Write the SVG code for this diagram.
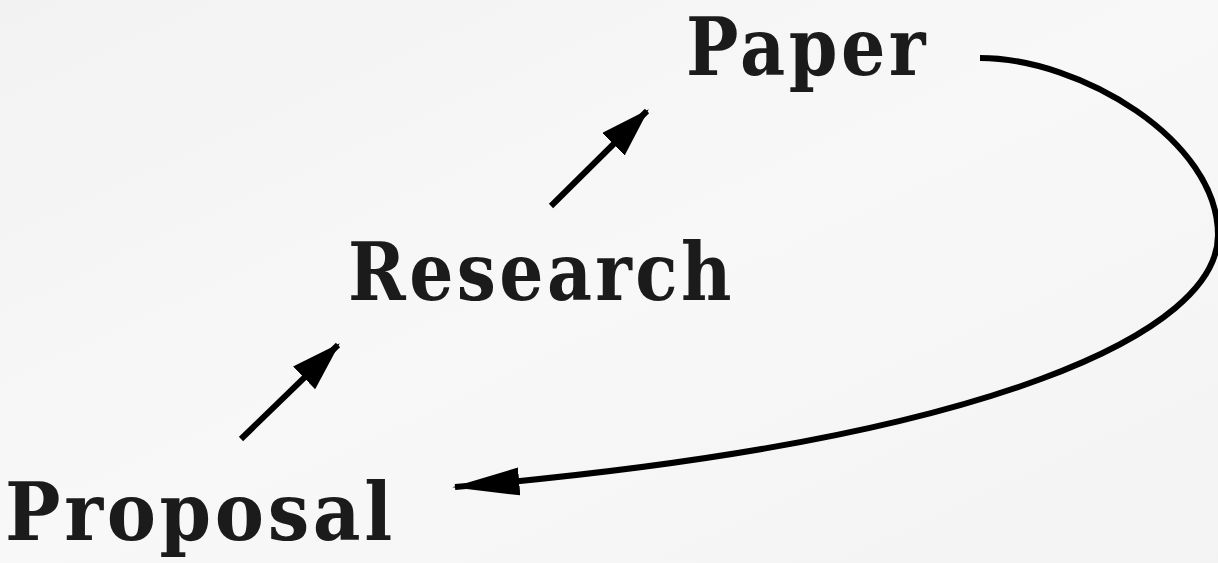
<svg xmlns="http://www.w3.org/2000/svg" width="1218" height="563" viewBox="0 0 1218 563">
  <defs>
    <linearGradient id="bg" x1="0" y1="0" x2="1" y2="1">
      <stop offset="0" stop-color="#f2f2f2"/>
      <stop offset="0.5" stop-color="#f8f8f8"/>
      <stop offset="1" stop-color="#f3f3f3"/>
    </linearGradient>
    <marker id="head" viewBox="0 0 10 6.4" refX="9.5" refY="3.2" markerWidth="8.3" markerHeight="5.3" orient="auto" markerUnits="strokeWidth">
      <path d="M0,0 L10,3.2 L0,6.4 Z" fill="#000"/>
    </marker>
    <marker id="headLong" viewBox="0 0 12 5" refX="11.5" refY="2.5" markerWidth="11.2" markerHeight="4.7" orient="auto" markerUnits="strokeWidth">
      <path d="M0,0 L12,2.5 L0,5 Z" fill="#000"/>
    </marker>
    <style>
      .lbl { font-family: "DejaVu Serif", "Liberation Serif", serif; font-weight: bold; font-size: 81px; letter-spacing: 4px; fill: #1b1b1b; }
      .conn { fill: none; stroke: #000; stroke-width: 6; marker-end: url(#head); }
      .loop { fill: none; stroke: #000; stroke-width: 6; marker-end: url(#headLong); }
    </style>
  </defs>
  <rect width="1218" height="563" fill="url(#bg)"/>
  <g id="node-paper"><text class="lbl" x="686" y="75" textLength="243" lengthAdjust="spacingAndGlyphs">Paper</text></g>
  <g id="node-research"><text class="lbl" x="348" y="300" textLength="387" lengthAdjust="spacingAndGlyphs">Research</text></g>
  <g id="node-proposal"><text class="lbl" x="5" y="540" textLength="391" lengthAdjust="spacingAndGlyphs">Proposal</text></g>
  <g id="connectors">
    <path class="conn" d="M241,439 L338,345"/>
    <path class="conn" d="M551,206 L647,111"/>
    <path class="loop" d="M980,58 C1080,58 1218,140 1218,235 C1218,330 1000,440 455,487"/>
  </g>
</svg>
